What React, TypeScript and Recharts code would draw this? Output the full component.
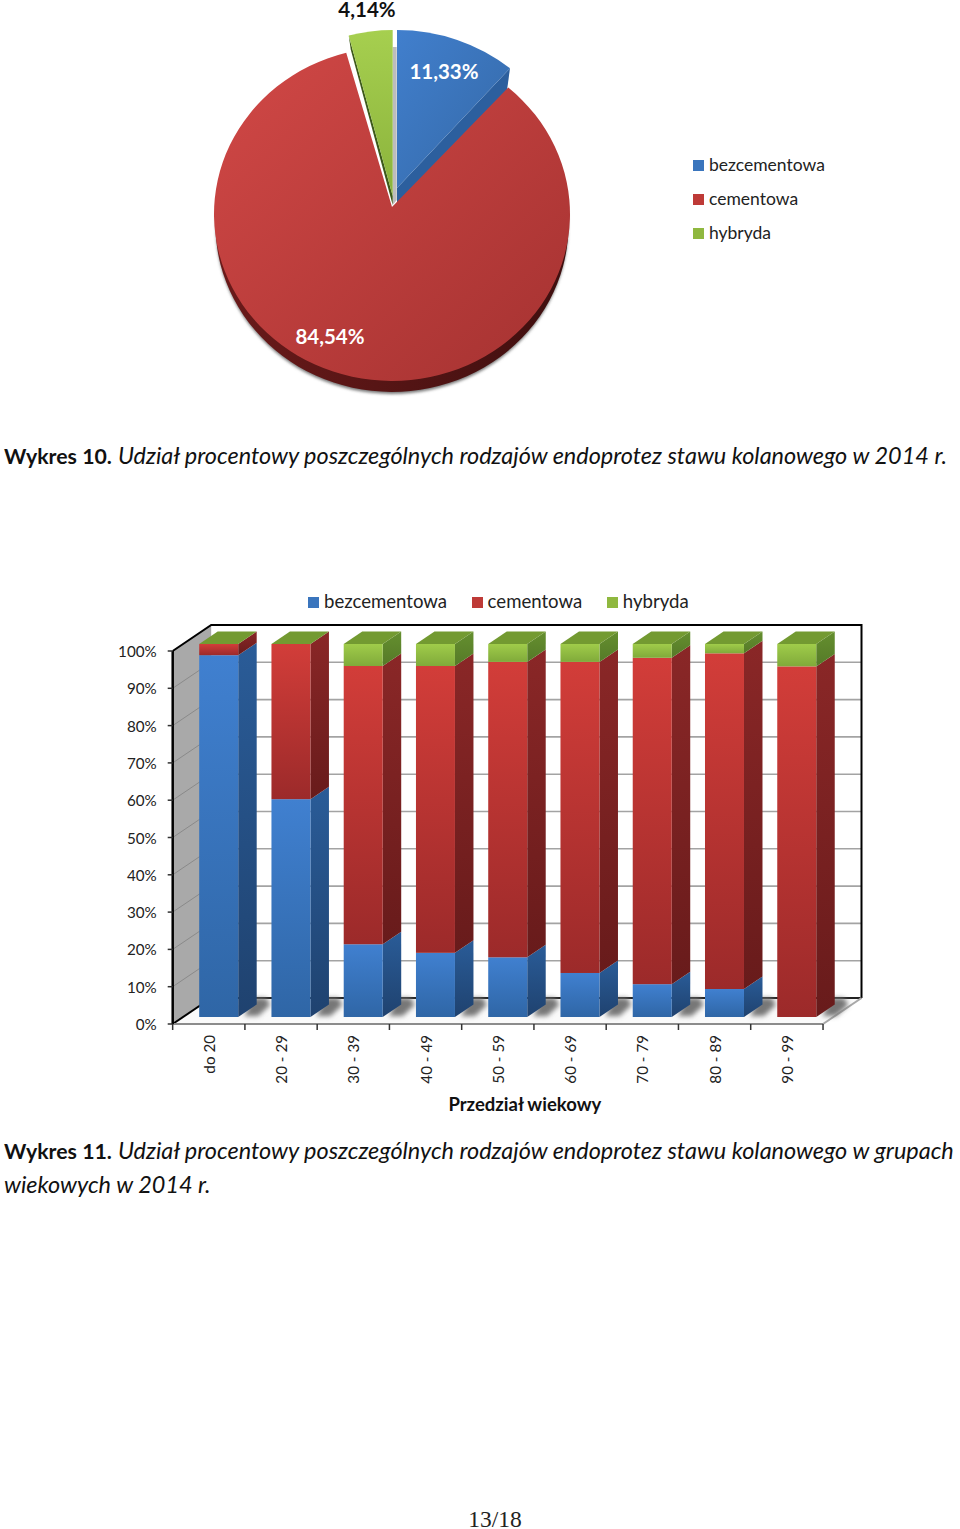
import {
  PieChart,
  Pie,
  BarChart,
  Bar,
  XAxis,
  YAxis,
  CartesianGrid,
  ReferenceArea,
  Legend,
  Label,
} from "recharts";

const FONT = "Lato, sans-serif";

// pie
const PIE_NAMES = ["bezcementowa", "cementowa", "hybryda"];
const PIE_VALUES = [11.33, 84.54, 4.14];
const PIE_LABELS = ["11,33%", "84,54%", "4,14%"];

// stacked bars
const AGE_GROUPS = ["do 20", "20 - 29", "30 - 39", "40 - 49", "50 - 59", "60 - 69", "70 - 79", "80 - 89", "90 - 99"];
const BEZCEMENTOWA = [97, 58.4, 19.5, 17.2, 16, 11.8, 8.8, 7.5, 0];
const CEMENTOWA = [3, 41.6, 74.6, 76.9, 79.2, 83.4, 87.5, 90, 94];
const HYBRYDA = [0, 0, 5.9, 5.9, 4.8, 4.8, 3.7, 2.5, 6];
const Y_TICKS = [0, 10, 20, 30, 40, 50, 60, 70, 80, 90, 100];

const LEGEND_COLORS = ["#3a75bd", "#be3a37", "#8fb83f"];

const DEPTH_X = 18.5; // bar side depth
const DEPTH_Y = 12.5;
const BOX_X = 38.5; // plot box depth
const BOX_Y = 26;
const BAR_SHIFT_X = 9.5;
const BAR_SHIFT_Y = -7;

const pieData = PIE_NAMES.map((name, i) => ({ name, value: PIE_VALUES[i], fill: LEGEND_COLORS[i] }));
const barData = AGE_GROUPS.map((group, i) => ({
  group,
  bezcementowa: BEZCEMENTOWA[i],
  cementowa: CEMENTOWA[i],
  hybryda: HYBRYDA[i],
}));

function pt(cx: number, cy: number, rx: number, ry: number, angle: number) {
  const a = (angle * Math.PI) / 180;
  return [cx + rx * Math.cos(a), cy - ry * Math.sin(a)];
}

// wedge on an ellipse, with the apex kept separate because the pie is drawn in perspective
function wedge(ax: number, ay: number, cx: number, cy: number, rx: number, ry: number, a0: number, a1: number) {
  const [x0, y0] = pt(cx, cy, rx, ry, a0);
  const [x1, y1] = pt(cx, cy, rx, ry, a1);
  const large = Math.abs(a0 - a1) > 180 ? 1 : 0;
  return `M${ax},${ay} L${x0},${y0} A${rx},${ry} 0 ${large} 1 ${x1},${y1} Z`;
}

function PieSlice(props: any) {
  const { name, startAngle, endAngle, cx, cy, outerRadius } = props;
  if (name === "cementowa") {
    const rx = outerRadius;
    const ry = outerRadius * 0.938;
    return (
      <g>
        <path d={wedge(cx, cy + 5, cx, cy + 13, rx - 2, ry, startAngle, endAngle)} fill="#777" filter="url(#pieSoft)" />
        <path d={wedge(cx, cy + 5, cx, cy + 11, rx - 1.5, ry, startAngle, endAngle)} fill="url(#pieRim)" />
        <path d={wedge(cx, cy - 7, cx, cy, rx, ry, startAngle, endAngle)} fill="url(#pieRed)" />
      </g>
    );
  }
  if (name === "bezcementowa") {
    const ax = cx + 5;
    const ay = cy - 26;
    const [ex, ey] = pt(ax, ay, 173, 158, endAngle);
    return (
      <g>
        <polygon points={`${ax},${ay} ${ex},${ey} ${ex - 3},${ey + 22} ${ax},${ay + 21}`} fill="#2c5f9e" />
        <path d={wedge(ax, ay, ax, ay, 173, 158, startAngle, endAngle)} fill="url(#pieBlue)" />
      </g>
    );
  }
  const ax = cx + 0.7;
  const ay = cy - 18;
  const [sx, sy] = pt(ax, ay, 171, 166, startAngle);
  return (
    <g>
      <polygon points={`${ax},47 ${ax + 4},47 ${ax + 4},${ay + 4} ${ax},${ay + 9}`} fill="#bdbdbd" />
      <polygon points={`${sx},${sy} ${sx + 2},${sy + 14} ${ax},${ay + 9} ${ax},${ay}`} fill="#3d5a1a" />
      <path d={wedge(ax, ay, ax, ay, 171, 166, startAngle, endAngle)} fill="url(#pieGreen)" />
    </g>
  );
}

function pieLabel(props: any) {
  const { index } = props;
  const spots = [
    { x: 444, y: 71, fill: "#fff" },
    { x: 330, y: 336, fill: "#fff" },
    { x: 367, y: 9, fill: "#111" },
  ];
  const s = spots[index];
  return (
    <text x={s.x} y={s.y} fill={s.fill} textAnchor="middle" dominantBaseline="central" fontFamily={FONT} fontWeight={700} fontSize={20.5}>
      {PIE_LABELS[index]}
    </text>
  );
}

function LegendSwatch({ color }: { color: string }) {
  return <span style={{ display: "inline-block", width: 11, height: 11, background: color, marginRight: 5 }} />;
}

function PieLegend({ payload }: any) {
  return (
    <div style={{ fontFamily: FONT, fontSize: 17.5, color: "#222" }}>
      {(payload ?? []).map((p: any) => (
        <div key={p.value} style={{ height: 34, lineHeight: "34px", whiteSpace: "nowrap" }}>
          <LegendSwatch color={p.color} />
          {p.value}
        </div>
      ))}
    </div>
  );
}

function BarLegend({ payload }: any) {
  return (
    <div style={{ fontFamily: FONT, fontSize: 18.6, color: "#222", display: "flex", whiteSpace: "nowrap" }}>
      {(payload ?? []).map((p: any) => (
        <div key={p.value} style={{ marginRight: 24.5 }}>
          <LegendSwatch color={p.color} />
          {p.value}
        </div>
      ))}
    </div>
  );
}

function makeBarShape(front: string, side: string, opts: { shadow?: boolean; top?: string }) {
  return function BarShape(props: any) {
    const { x, y, width, height } = props;
    const fx = x + BAR_SHIFT_X;
    const fy = y + BAR_SHIFT_Y;
    const r = fx + width;
    const b = fy + height;
    return (
      <g>
        {opts.shadow && (
          <polygon
            points={`${r + 6},${b - 1} ${r + 20},${b - 1} ${r + 32},${b - 12} ${r + 28},${b - 19} ${r + 15},${b - 19}`}
            fill="#777"
            filter="url(#barSoft)"
          />
        )}
        <polygon
          points={`${r},${fy} ${r + DEPTH_X},${fy - DEPTH_Y} ${r + DEPTH_X},${b - DEPTH_Y} ${r},${b}`}
          fill={`url(#${side})`}
        />
        {height > 0 && <rect x={fx} y={fy} width={width} height={height} fill={`url(#${front})`} />}
        {opts.top && (
          <polygon
            points={`${fx},${fy} ${r},${fy} ${r + DEPTH_X},${fy - DEPTH_Y} ${fx + DEPTH_X},${fy - DEPTH_Y}`}
            fill={opts.top}
          />
        )}
      </g>
    );
  };
}

function gridLine(props: any) {
  const { x1, x2, y1 } = props;
  if (y1 > 1000 - 560 + 1 || y1 < 100) return <g key={`g${y1}`} />;
  return (
    <line
      key={`g${y1}`}
      x1={x1 + BOX_X}
      y1={y1 - BOX_Y}
      x2={x2 + BOX_X}
      y2={y1 - BOX_Y}
      stroke="#a3a3a3"
      strokeWidth={1.6}
    />
  );
}

function PlotBox(props: any) {
  const { x, y, width, height } = props;
  const r = x + width;
  const b = y + height;
  return (
    <g>
      <polygon points={`${x},${y} ${x + BOX_X},${y - BOX_Y} ${x + BOX_X},${b - BOX_Y} ${x},${b}`} fill="#a9a9a9" />
      {Y_TICKS.slice(1, -1).map((t) => {
        const ly = b - (height * t) / 100;
        return <line key={t} x1={x} y1={ly} x2={x + BOX_X} y2={ly - BOX_Y} stroke="#8a8a8a" strokeWidth={1} />;
      })}
      <polygon points={`${x},${b} ${r},${b} ${r + BOX_X},${b - BOX_Y} ${x + BOX_X},${b - BOX_Y}`} fill="#fafafa" />
      <polyline
        points={`${x},${y} ${x + BOX_X},${y - BOX_Y} ${r + BOX_X},${y - BOX_Y} ${r + BOX_X},${b - BOX_Y}`}
        fill="none"
        stroke="#000"
        strokeWidth={2}
      />
      <line x1={x} y1={b} x2={x + BOX_X} y2={b - BOX_Y} stroke="#000" strokeWidth={2} />
      <line x1={x + BOX_X} y1={b - BOX_Y} x2={r + BOX_X} y2={b - BOX_Y} stroke="#222" strokeWidth={2} />
      <line x1={r} y1={b} x2={r + BOX_X} y2={b - BOX_Y} stroke="#a8a8a8" strokeWidth={2} />
    </g>
  );
}

function AgeTick(props: any) {
  const { x, y, payload, index } = props;
  const band = 651 / AGE_GROUPS.length;
  const ty = 1024 - 560;
  return (
    <g>
      <line x1={x - band / 2} y1={ty} x2={x - band / 2} y2={ty + 6} stroke="#333" strokeWidth={1.5} />
      {index === AGE_GROUPS.length - 1 && (
        <line x1={x + band / 2} y1={ty} x2={x + band / 2} y2={ty + 6} stroke="#333" strokeWidth={1.5} />
      )}
      <text
        transform={`translate(${x + 6},${y + 3}) rotate(-90)`}
        textAnchor="end"
        fontFamily={FONT}
        fontSize={15.2}
        fill="#222"
      >
        {payload.value}
      </text>
    </g>
  );
}

const caption: React.CSSProperties = {
  position: "absolute",
  left: 4,
  fontFamily: FONT,
  fontSize: 23.45,
  lineHeight: "33px",
  color: "#111",
  whiteSpace: "nowrap",
};

const captionLead: React.CSSProperties = { fontSize: 21.3 };

export default function App() {
  return (
    <div style={{ position: "absolute", left: 0, top: 0, width: 960, height: 1529, background: "#fff", overflow: "hidden" }}>
      <div style={{ position: "absolute", left: 0, top: 0 }}>
        <PieChart width={960} height={420} margin={{ top: 0, right: 0, bottom: 0, left: 0 }}>
          <defs>
            <linearGradient id="pieRed" x1="0" y1="0" x2="1" y2="1">
              <stop offset="0%" stopColor="#d14846" />
              <stop offset="100%" stopColor="#a53231" />
            </linearGradient>
            <linearGradient id="pieRim" x1="0" y1="0" x2="1" y2="0">
              <stop offset="0%" stopColor="#6b1a1a" />
              <stop offset="100%" stopColor="#3f0f0f" />
            </linearGradient>
            <linearGradient id="pieBlue" x1="0" y1="0" x2="1" y2="1">
              <stop offset="0%" stopColor="#417fcd" />
              <stop offset="100%" stopColor="#3468a6" />
            </linearGradient>
            <linearGradient id="pieGreen" x1="0" y1="0" x2="0" y2="1">
              <stop offset="0%" stopColor="#a6cf4f" />
              <stop offset="100%" stopColor="#8bb33c" />
            </linearGradient>
            <filter id="pieSoft" x="-10%" y="-10%" width="120%" height="120%">
              <feGaussianBlur stdDeviation="1.5" />
            </filter>
          </defs>
          <Pie
            data={pieData}
            dataKey="value"
            nameKey="name"
            cx={392}
            cy={214}
            outerRadius={178}
            startAngle={90}
            endAngle={-270}
            stroke="none"
            shape={PieSlice}
            label={pieLabel}
            labelLine={false}
            isAnimationActive={false}
          />
          <Legend
            layout="horizontal"
            align="center"
            verticalAlign="middle"
            content={PieLegend}
            wrapperStyle={{ left: 693, top: 148, width: 200, height: 102 }}
          />
        </PieChart>
      </div>

      <div style={{ ...caption, top: 439 }}>
        <b style={captionLead}>Wykres 10.</b> <i>Udział procentowy poszczególnych rodzajów endoprotez stawu kolanowego w 2014 r.</i>
      </div>

      <div style={{ position: "absolute", left: 0, top: 560 }}>
        <BarChart
          width={960}
          height={560}
          data={barData}
          barSize={39}
          margin={{ top: 91, right: 137, bottom: 0, left: 112.7 }}
        >
          <defs>
            <linearGradient id="frontBlue" x1="0" y1="0" x2="0" y2="1">
              <stop offset="0%" stopColor="#4080d0" />
              <stop offset="100%" stopColor="#2f66a6" />
            </linearGradient>
            <linearGradient id="sideBlue" x1="0" y1="0" x2="0" y2="1">
              <stop offset="0%" stopColor="#2a5c98" />
              <stop offset="100%" stopColor="#1f426f" />
            </linearGradient>
            <linearGradient id="frontRed" x1="0" y1="0" x2="0" y2="1">
              <stop offset="0%" stopColor="#d23d39" />
              <stop offset="100%" stopColor="#9c2a2a" />
            </linearGradient>
            <linearGradient id="sideRed" x1="0" y1="0" x2="0" y2="1">
              <stop offset="0%" stopColor="#8a2727" />
              <stop offset="100%" stopColor="#681b1b" />
            </linearGradient>
            <linearGradient id="frontGreen" x1="0" y1="0" x2="0" y2="1">
              <stop offset="0%" stopColor="#a0cc4a" />
              <stop offset="100%" stopColor="#80aa3a" />
            </linearGradient>
            <linearGradient id="sideGreen" x1="0" y1="0" x2="0" y2="1">
              <stop offset="0%" stopColor="#658f2f" />
              <stop offset="100%" stopColor="#557a28" />
            </linearGradient>
            <filter id="barSoft" x="-50%" y="-50%" width="200%" height="200%">
              <feGaussianBlur stdDeviation="2.5" />
            </filter>
          </defs>
          <ReferenceArea y1={0} y2={100} shape={PlotBox} ifOverflow="visible" />
          <CartesianGrid vertical={false} horizontal={gridLine} />
          <XAxis
            dataKey="group"
            height={96}
            interval={0}
            axisLine={{ stroke: "#8c8c8c", strokeWidth: 2 }}
            tickLine={false}
            tick={AgeTick}
          >
            <Label
              value="Przedział wiekowy"
              position="insideBottom"
              offset={9}
              dx={27}
              style={{ fontFamily: FONT, fontWeight: 700, fontSize: 18.5, fill: "#111" }}
            />
          </XAxis>
          <YAxis
            width={60}
            domain={[0, 100]}
            ticks={Y_TICKS}
            interval={0}
            tickFormatter={(v) => `${v}%`}
            axisLine={{ stroke: "#000", strokeWidth: 2.5 }}
            tickLine={{ stroke: "#333", strokeWidth: 1.5 }}
            tickSize={5}
            tickMargin={11}
            tick={{ fontFamily: FONT, fontSize: 15.2, fill: "#222", dy: 0.7 }}
          />
          <Bar
            dataKey="bezcementowa"
            name="bezcementowa"
            stackId="a"
            fill={LEGEND_COLORS[0]}
            shape={makeBarShape("frontBlue", "sideBlue", { shadow: true })}
            isAnimationActive={false}
          />
          <Bar
            dataKey="cementowa"
            name="cementowa"
            stackId="a"
            fill={LEGEND_COLORS[1]}
            shape={makeBarShape("frontRed", "sideRed", {})}
            isAnimationActive={false}
          />
          <Bar
            dataKey="hybryda"
            name="hybryda"
            stackId="a"
            fill={LEGEND_COLORS[2]}
            shape={makeBarShape("frontGreen", "sideGreen", { top: "#739a31" })}
            isAnimationActive={false}
          />
          <Legend
            layout="horizontal"
            align="center"
            verticalAlign="middle"
            content={BarLegend}
            wrapperStyle={{ left: 308, top: 30, width: 500, height: 26 }}
          />
        </BarChart>
      </div>

      <div style={{ ...caption, top: 1134 }}>
        <b style={captionLead}>Wykres 11.</b> <i>Udział procentowy poszczególnych rodzajów endoprotez stawu kolanowego w grupach</i>
        <br />
        <i>wiekowych w 2014 r.</i>
      </div>

      <div
        style={{
          position: "absolute",
          left: 30,
          width: 930,
          top: 1510,
          lineHeight: "18px",
          textAlign: "center",
          fontFamily: "'Liberation Serif', serif",
          fontSize: 23.5,
          color: "#222",
        }}
      >
        13/18
      </div>
    </div>
  );
}
